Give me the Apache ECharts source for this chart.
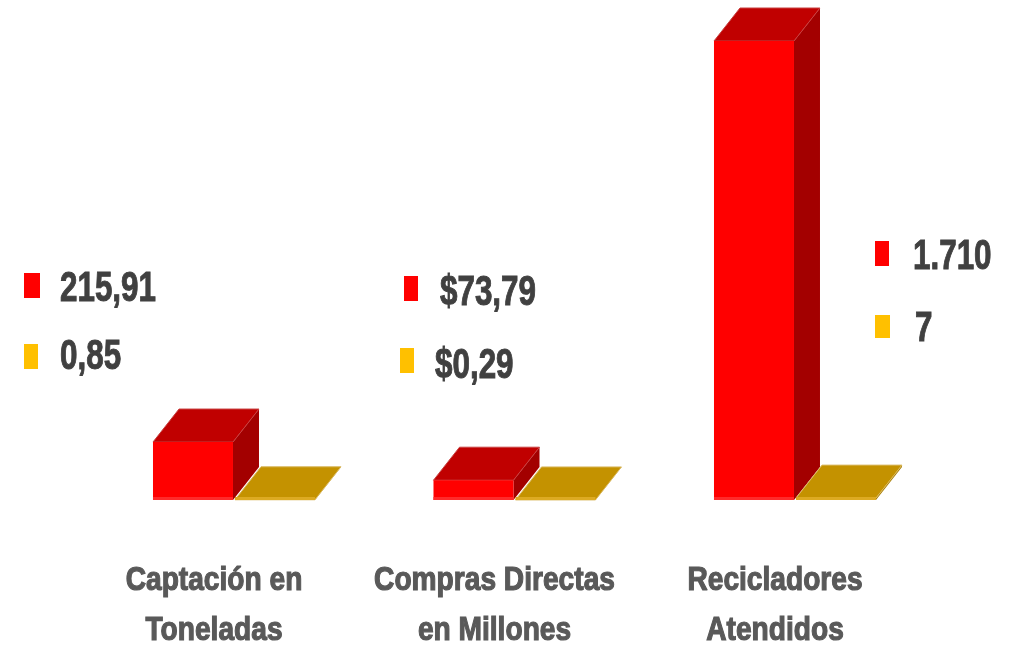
<!DOCTYPE html>
<html>
<head>
<meta charset="utf-8">
<script src="https://cdn.jsdelivr.net/npm/echarts@6/dist/echarts.min.js"></script>
<style>html,body{margin:0;padding:0;background:#fff}#main{width:1020px;height:654px}</style>
</head>
<body>
<div id="main"></div>
<script>
// ---- data ----
const categories = ['Captación en\nToneladas', 'Compras Directas\nen Millones', 'Recicladores\nAtendidos'];
const redValues = [215.91, 73.79, 1710];
const yellowValues = [0.85, 0.29, 7];
const redLabels = ['215,91', '$73,79', '1.710'];
const yellowLabels = ['0,85', '$0,29', '7'];

// ---- layout / style (not data) ----
const legendLayout = [
  { red: { sq: [24, 273, 16, 25], tx: [60, 289] }, yellow: { sq: [24, 344, 14, 25], tx: [60, 357.5] } },
  { red: { sq: [404, 276, 14, 25], tx: [440, 293] }, yellow: { sq: [400, 348, 14, 25], tx: [435, 366] } },
  { red: { sq: [875, 241, 14, 25], tx: [913, 257.5] }, yellow: { sq: [875, 315, 15, 23], tx: [915, 329] } }
];
const FONT = 'Liberation Sans';
const DX = 26, DY = -33;

function bar3D(api, idx, val, lf, rf, col) {
  const base = api.coord([idx, 0]);
  const top = api.coord([idx, val]);
  const bw = api.size([1, 0])[0];
  const c = base[0];
  const x0 = c + lf * bw, x1 = c + rf * bw;
  const yb = base[1], yt = top[1];
  return [
    { type: 'polygon', silent: true, shape: { points: [[x1, yt], [x1 + DX, yt + DY], [x1 + DX, yb + DY], [x1, yb]] }, style: { fill: col.side } },
    { type: 'polygon', silent: true, shape: { points: [[x0, yt], [x0 + DX, yt + DY], [x1 + DX, yt + DY], [x1, yt]] }, style: { fill: col.top, stroke: col.edge, lineWidth: 1 } },
    { type: 'rect', silent: true, shape: { x: x0, y: yt, width: x1 - x0, height: yb - yt }, style: { fill: col.front } },
    { type: 'rect', silent: true, shape: { x: x0, y: yb - 3, width: x1 - x0, height: 3 }, style: { fill: col.strip } }
  ];
}

const redCol = { front: '#FF0000', top: '#C00000', side: '#A30000', edge: '#C84040', strip: '#FF2A2A' };
const yelCol = { front: '#D8A21C', top: '#C49200', side: '#A67C00', edge: '#D9B860', strip: '#DDAA22' };

const graphics = [];
legendLayout.forEach((g, i) => {
  [['red', '#FF0000', redLabels[i]], ['yellow', '#FFC000', yellowLabels[i]]].forEach(([k, color, label]) => {
    const L = g[k];
    graphics.push({ type: 'rect', shape: { x: L.sq[0], y: L.sq[1], width: L.sq[2], height: L.sq[3] }, style: { fill: color } });
    graphics.push({ type: 'text', x: L.tx[0], y: L.tx[1], scaleX: 0.73,
      style: { text: label, fontSize: 43, fontWeight: 'bold', fontFamily: FONT, fill: '#404040', stroke: '#404040', lineWidth: 1, align: 'left', verticalAlign: 'middle' } });
  });
});

const chart = echarts.init(document.getElementById('main'), null, { renderer: 'canvas' });
chart.setOption({
  animation: false,
  backgroundColor: '#ffffff',
  grid: { left: 73.75, right: 104.75, top: 41, bottom: 154 },
  xAxis: { type: 'category', data: categories, show: false, boundaryGap: true },
  yAxis: { type: 'value', min: 0, max: 1710, show: false },
  graphic: graphics,
  series: [
    {
      type: 'custom', name: 'rojo', clip: false,
      data: redValues.map((v, i) => [i, v]),
      encode: { x: 0, y: 1 },
      renderItem: function (params, api) {
        const idx = api.value(0);
        const children = bar3D(api, idx, api.value(1), -0.2175, 0.0677, redCol);
        const c = api.coord([idx, 0])[0];
        children.push({ type: 'text', silent: true, x: c, y: 555.4, scaleX: 0.84,
          style: { text: categories[idx], fontSize: 33.5, fontWeight: 'bold', fontFamily: FONT, fill: '#595959', stroke: '#595959', lineWidth: 1.2, align: 'center', verticalAlign: 'top', lineHeight: 50 } });
        return { type: 'group', children: children };
      }
    },
    {
      type: 'custom', name: 'amarillo', clip: false,
      data: yellowValues.map((v, i) => [i, v]),
      encode: { x: 0, y: 1 },
      renderItem: function (params, api) {
        const idx = api.value(0);
        return { type: 'group', children: bar3D(api, idx, api.value(1), 0.0749, 0.36, yelCol) };
      }
    }
  ]
});
</script>
</body>
</html>
